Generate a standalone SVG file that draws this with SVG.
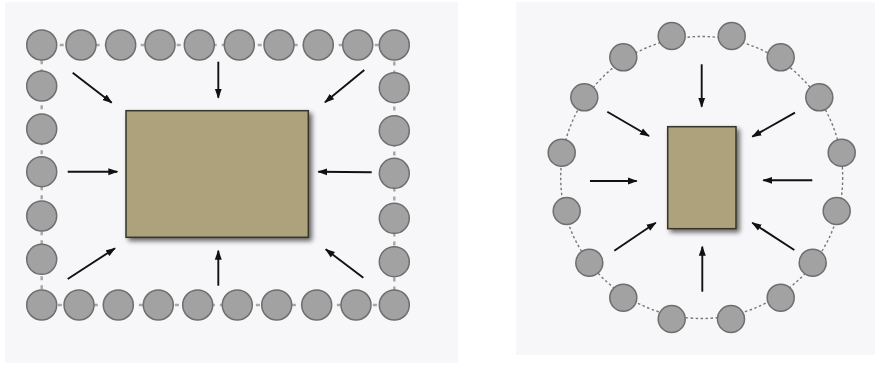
<svg xmlns="http://www.w3.org/2000/svg" width="875" height="365" viewBox="0 0 875 365">
<defs>
<marker id="ah" markerWidth="10" markerHeight="8" refX="9" refY="4" orient="auto" markerUnits="userSpaceOnUse">
<path d="M0,0.5 L10,4 L0,7.5 Z" fill="#111"/>
</marker>
<filter id="sh" x="-20%" y="-20%" width="150%" height="150%">
<feGaussianBlur in="SourceAlpha" stdDeviation="2.5"/>
<feOffset dx="3" dy="3" result="b"/>
<feComponentTransfer><feFuncA type="linear" slope="0.6"/></feComponentTransfer>
<feMerge><feMergeNode/><feMergeNode in="SourceGraphic"/></feMerge>
</filter>
</defs>
<style>
.panel{fill:#f7f7f9}
.n{fill:#a2a2a2;stroke:#6e6e6e;stroke-width:1.5}
.box{fill:#ada27c;stroke:#35352a;stroke-width:1.5;filter:url(#sh)}
.arr{stroke:#111;stroke-width:1.9;fill:none;marker-end:url(#ah)}
.dash{fill:none;stroke:#a8a8a8;stroke-width:2.5;stroke-dasharray:4 5}
.dot{fill:none;stroke:#777;stroke-width:1.4;stroke-dasharray:2.5 2.5}
</style>
<rect width="875" height="365" fill="#ffffff"/>
<rect class="panel" x="5" y="2" width="453" height="361"/>
<rect class="panel" x="516" y="2" width="359" height="353"/>
<g id="connectors">
<rect class="dash" x="41.7" y="45" width="352.6" height="260"/>
<circle class="dot" cx="701.7" cy="177.5" r="141"/>
<line class="arr" x1="72.7" y1="72.7" x2="111.7" y2="102.7"/>
<line class="arr" x1="218.3" y1="61.7" x2="218.3" y2="97.7"/>
<line class="arr" x1="364.3" y1="70" x2="325" y2="102.3"/>
<line class="arr" x1="67.7" y1="171.7" x2="117.3" y2="171.7"/>
<line class="arr" x1="371.7" y1="172.3" x2="318.3" y2="171.7"/>
<line class="arr" x1="67.7" y1="279" x2="115" y2="248.3"/>
<line class="arr" x1="218.3" y1="285.7" x2="218.3" y2="250.7"/>
<line class="arr" x1="363.3" y1="277.7" x2="325.7" y2="249.3"/>
<line class="arr" x1="701.7" y1="64.3" x2="701.7" y2="106.7"/>
<line class="arr" x1="607.3" y1="111.7" x2="649" y2="136"/>
<line class="arr" x1="795" y1="112.7" x2="752.3" y2="136.7"/>
<line class="arr" x1="590" y1="181" x2="636.7" y2="181"/>
<line class="arr" x1="812.3" y1="180.3" x2="763.3" y2="180.3"/>
<line class="arr" x1="614.3" y1="250.7" x2="655.7" y2="222.7"/>
<line class="arr" x1="794.3" y1="250" x2="752.3" y2="222.7"/>
<line class="arr" x1="702.3" y1="291.7" x2="702.3" y2="246.7"/>
</g>
<g id="left-center"><rect class="box" x="126" y="110.7" width="182.3" height="126.6"/></g>
<g id="left-ring">
<g id="t1"><circle class="n" cx="41.7" cy="45" r="15"/></g>
<g id="t2"><circle class="n" cx="81" cy="45" r="15"/></g>
<g id="t3"><circle class="n" cx="120.7" cy="45" r="15"/></g>
<g id="t4"><circle class="n" cx="160" cy="45" r="15"/></g>
<g id="t5"><circle class="n" cx="199.3" cy="45" r="15"/></g>
<g id="t6"><circle class="n" cx="239.3" cy="45" r="15"/></g>
<g id="t7"><circle class="n" cx="279" cy="45" r="15"/></g>
<g id="t8"><circle class="n" cx="318.3" cy="45" r="15"/></g>
<g id="t9"><circle class="n" cx="357.7" cy="45" r="15"/></g>
<g id="t10"><circle class="n" cx="394.3" cy="45" r="15"/></g>
<g id="l2"><circle class="n" cx="41.7" cy="86" r="15"/></g>
<g id="l3"><circle class="n" cx="41.7" cy="129" r="15"/></g>
<g id="l4"><circle class="n" cx="41.7" cy="171.7" r="15"/></g>
<g id="l5"><circle class="n" cx="41.7" cy="216" r="15"/></g>
<g id="l6"><circle class="n" cx="41.7" cy="259.3" r="15"/></g>
<g id="r2"><circle class="n" cx="394.3" cy="87.7" r="15"/></g>
<g id="r3"><circle class="n" cx="394.3" cy="130.7" r="15"/></g>
<g id="r4"><circle class="n" cx="394.3" cy="173.3" r="15"/></g>
<g id="r5"><circle class="n" cx="394.3" cy="218.3" r="15"/></g>
<g id="r6"><circle class="n" cx="394.3" cy="261.7" r="15"/></g>
<g id="b1"><circle class="n" cx="41.7" cy="305" r="15"/></g>
<g id="b2"><circle class="n" cx="79" cy="305" r="15"/></g>
<g id="b3"><circle class="n" cx="118.3" cy="305" r="15"/></g>
<g id="b4"><circle class="n" cx="158.3" cy="305" r="15"/></g>
<g id="b5"><circle class="n" cx="197.7" cy="305" r="15"/></g>
<g id="b6"><circle class="n" cx="237.3" cy="305" r="15"/></g>
<g id="b7"><circle class="n" cx="276.7" cy="305" r="15"/></g>
<g id="b8"><circle class="n" cx="316.7" cy="305" r="15"/></g>
<g id="b9"><circle class="n" cx="356" cy="305" r="15"/></g>
<g id="b10"><circle class="n" cx="394.3" cy="305" r="15"/></g>
</g>
<g id="right-center"><rect class="box" x="667.7" y="126.7" width="68.3" height="102"/></g>
<g id="right-ring">
<g id="c1"><circle class="n" cx="671.7" cy="36" r="13.5"/></g>
<g id="c2"><circle class="n" cx="731.7" cy="36" r="13.5"/></g>
<g id="c3"><circle class="n" cx="780.7" cy="57.3" r="13.5"/></g>
<g id="c4"><circle class="n" cx="819.3" cy="97.3" r="13.5"/></g>
<g id="c5"><circle class="n" cx="841.7" cy="152.7" r="13.5"/></g>
<g id="c6"><circle class="n" cx="836.7" cy="211" r="13.5"/></g>
<g id="c7"><circle class="n" cx="812.7" cy="262.7" r="13.5"/></g>
<g id="c8"><circle class="n" cx="780.7" cy="297.7" r="13.5"/></g>
<g id="c9"><circle class="n" cx="731" cy="319" r="13.5"/></g>
<g id="c10"><circle class="n" cx="671.7" cy="319" r="13.5"/></g>
<g id="c11"><circle class="n" cx="623.3" cy="297.7" r="13.5"/></g>
<g id="c12"><circle class="n" cx="589.3" cy="262.7" r="13.5"/></g>
<g id="c13"><circle class="n" cx="566.7" cy="211" r="13.5"/></g>
<g id="c14"><circle class="n" cx="561.7" cy="152.7" r="13.5"/></g>
<g id="c15"><circle class="n" cx="584.3" cy="97.3" r="13.5"/></g>
<g id="c16"><circle class="n" cx="623.3" cy="57.3" r="13.5"/></g>
</g>
</svg>
